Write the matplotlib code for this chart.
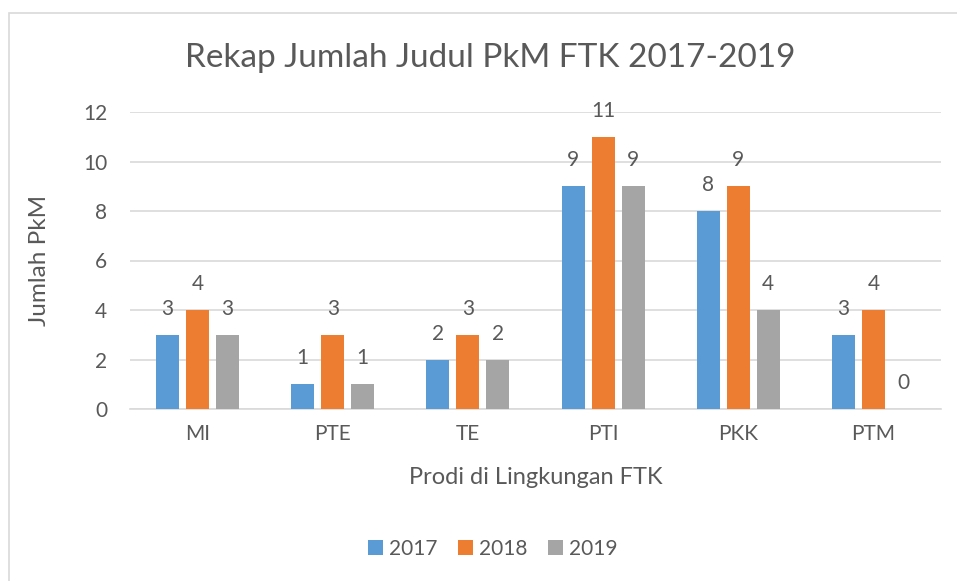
import matplotlib
matplotlib.use('Agg')
import matplotlib.pyplot as plt
import numpy as np
from matplotlib.patches import Rectangle

plt.rcParams['font.family'] = ['Lato', 'DejaVu Sans']

prodi = ['MI', 'PTE', 'TE', 'PTI', 'PKK', 'PTM']
tahun = ['2017', '2018', '2019']
v2017 = [3, 1, 2, 9, 8, 3]
v2018 = [4, 3, 3, 11, 9, 4]
v2019 = [3, 1, 2, 9, 4, 0]
warna = ['#5B9BD5', '#ED7D31', '#A5A5A5']
teks = '#595959'

fig = plt.figure(figsize=(9.57, 5.81), dpi=100)
# chart frame (only the top/left edges are inside the picture)
fig.patches.append(Rectangle((9/957, -0.1), 1.2, 1 - 13/581 + 0.1, transform=fig.transFigure,
                             fill=False, edgecolor='#D9D9D9', lw=1.2))

ax = fig.add_axes([130/957, 1 - 409/581, 811/957, 297/581])
x = np.arange(len(prodi))
w = 0.17
step = 0.222
for i, (vals, c, lab) in enumerate(zip([v2017, v2018, v2019], warna, tahun)):
    bars = ax.bar(x + (i - 1) * step, vals, width=w, color=c, label=lab, zorder=3)
    ax.bar_label(bars, padding=11.5, fontsize=15, color=teks)

ax.set_xlim(-0.5, len(prodi) - 0.5)
ax.set_ylim(0, 12)
ax.set_yticks(range(0, 13, 2))
ax.set_xticks(x)
ax.set_xticklabels(prodi)
ax.tick_params(axis='both', length=0, labelsize=15, labelcolor=teks)
ax.tick_params(axis='x', pad=11)
ax.tick_params(axis='y', pad=16.5)
ax.grid(axis='y', color='#D9D9D9', lw=1.2, zorder=0)
for s in ['top', 'right', 'left']:
    ax.spines[s].set_visible(False)
ax.spines['bottom'].set_color('#D9D9D9')
ax.spines['bottom'].set_linewidth(1.2)

ax.set_xlabel('Prodi di Lingkungan FTK', fontsize=17, color=teks, labelpad=16)
fig.text(40/957, 1 - 260/581, 'Jumlah PkM', rotation=90, fontsize=17.5, color=teks,
         ha='center', va='center')
fig.text(490/957, 1 - 58/581, 'Rekap Jumlah Judul PkM FTK 2017-2019', fontsize=24,
         color=teks, ha='center', va='center')

leg = fig.legend(loc='center', bbox_to_anchor=(493/957, 1 - 549/581), ncol=3, frameon=False,
                 fontsize=15, handlelength=0.7, handleheight=0.7, handletextpad=0.3,
                 columnspacing=1.0)
for t in leg.get_texts():
    t.set_color(teks)

fig.savefig('out.png', dpi=100)
